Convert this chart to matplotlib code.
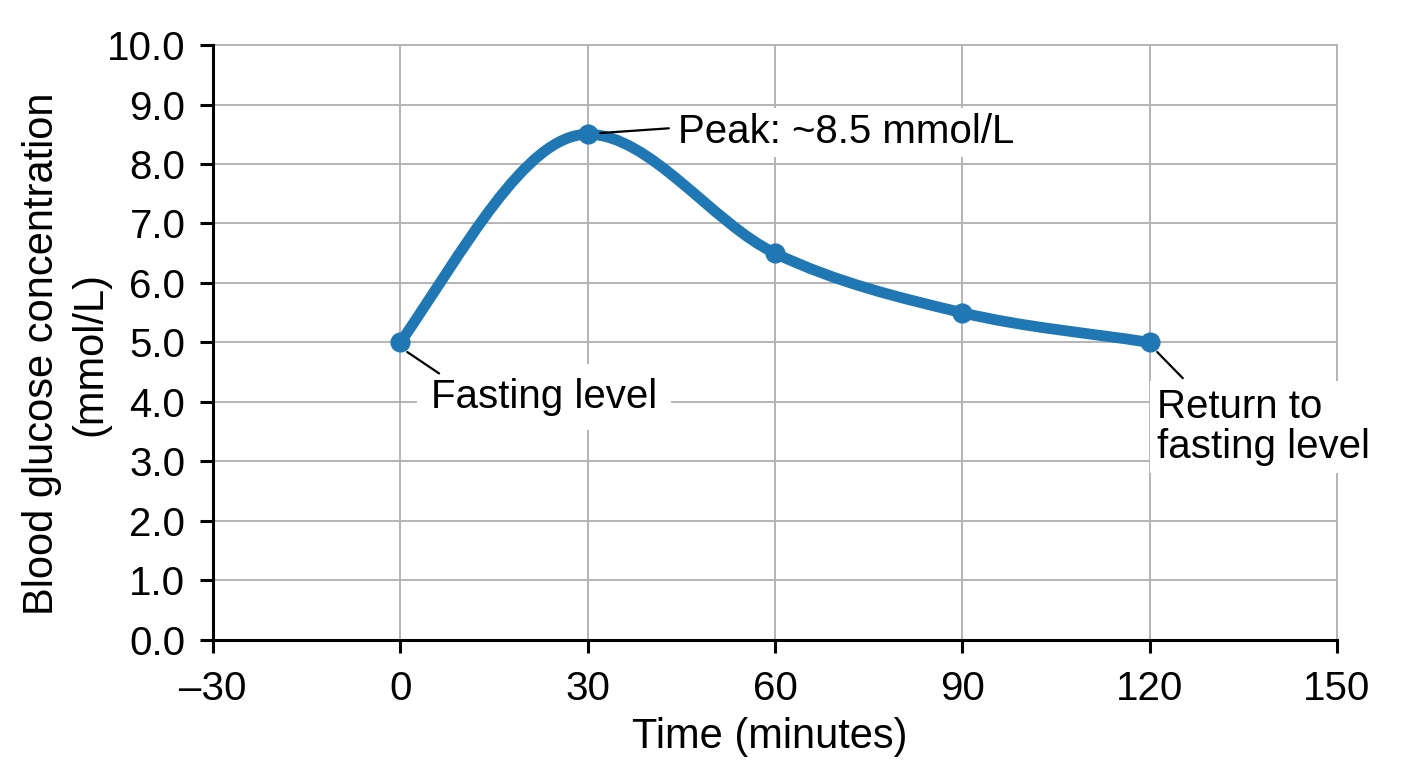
import numpy as np
import matplotlib
matplotlib.use("Agg")
import matplotlib.pyplot as plt
from matplotlib.path import Path
from matplotlib.patches import PathPatch

plt.rcParams['font.family'] = ['Liberation Sans', 'DejaVu Sans']

# data
time_min = [0, 30, 60, 90, 120]
glucose = [5.0, 8.5, 6.5, 5.5, 5.0]
x_ticks = [-30, 0, 30, 60, 90, 120, 150]
y_ticks = [0.0, 1.0, 2.0, 3.0, 4.0, 5.0, 6.0, 7.0, 8.0, 9.0, 10.0]

BLUE = "#1f77b4"


def smooth_path(xs, ys, end_boost=1.3):
    # bezier through the points, flat tangent at local extrema
    xs = np.asarray(xs, float)
    ys = np.asarray(ys, float)
    n = len(xs)
    m = np.zeros(n)
    for i in range(n):
        if i == 0:
            m[i] = end_boost * (ys[1] - ys[0]) / (xs[1] - xs[0])
        elif i == n - 1:
            m[i] = (ys[-1] - ys[-2]) / (xs[-1] - xs[-2])
        else:
            a = (ys[i] - ys[i-1]) / (xs[i] - xs[i-1])
            b = (ys[i+1] - ys[i]) / (xs[i+1] - xs[i])
            m[i] = 0.0 if a * b <= 0 else (ys[i+1] - ys[i-1]) / (xs[i+1] - xs[i-1])
    verts = [(xs[0], ys[0])]
    codes = [Path.MOVETO]
    for i in range(n - 1):
        dx = (xs[i+1] - xs[i]) / 3
        verts += [(xs[i] + dx, ys[i] + m[i] * dx),
                  (xs[i+1] - dx, ys[i+1] - m[i+1] * dx),
                  (xs[i+1], ys[i+1])]
        codes += [Path.CURVE4] * 3
    return Path(verts, codes)


fig = plt.figure(figsize=(14.08, 7.68), dpi=100)
ax = fig.add_axes([0.1513, 0.1667, 0.7983, 0.7747])

ax.set_xlim(-30, 150)
ax.set_ylim(0, 10)
ax.set_xticks(x_ticks)
ax.set_yticks(y_ticks)
ax.set_yticklabels([f"{v:.1f}" for v in y_ticks])
ax.set_xticklabels([str(v).replace("-", "\u2013") for v in x_ticks])

ax.grid(True, color="#b4b4b4", linewidth=1.4, clip_on=False)
ax.set_axisbelow(True)
for s in ["top", "right"]:
    ax.spines[s].set_visible(False)
for s in ["left", "bottom"]:
    ax.spines[s].set_linewidth(2.2)
    ax.spines[s].set_zorder(5)

ax.tick_params(direction="out", length=9.4, width=2.2, labelsize=29)
ax.tick_params(axis="y", pad=10.5)
ax.tick_params(axis="x", pad=12)

ax.add_patch(PathPatch(smooth_path(time_min, glucose), fill=False,
                       edgecolor=BLUE, linewidth=7.8, capstyle="round", zorder=3))
ax.plot(time_min, glucose, "o", color=BLUE, markersize=13.5, zorder=4)

fig.text(770 / 1408, 1 - 748 / 768, "Time (minutes)", fontsize=30,
         ha="center", va="baseline")
fig.text(66 / 1408, 1 - 354 / 768, "Blood glucose concentration\n(mmol/L)",
         fontsize=30, rotation=90, ha="center", va="center", linespacing=1.28,
         multialignment="center")

line = dict(arrowstyle="-", color="black", linewidth=1.6, shrinkA=0, shrinkB=0)


def label(text, pos, pad, **kw):
    ax.text(pos[0], pos[1], text, fontsize=29, ha="left", va="baseline",
            bbox=dict(facecolor="white", edgecolor="none", pad=pad),
            zorder=6, clip_on=False, **kw)


def leader(p0, p1):
    ax.annotate("", xy=p0, xytext=p1, arrowprops=line, zorder=7,
                annotation_clip=False)


label("Peak: ~8.5 mmol/L", (44.4, 8.35), 4)
leader((32.0, 8.52), (43.0, 8.6))

label("Fasting level", (4.9, 3.9), 10)
leader((1.1, 4.84), (6.2, 4.48))

label("Return to\nfasting level", (121.2, 3.06), 5, linespacing=1.08)
leader((121.2, 4.84), (125.3, 4.4))

fig.savefig("out.png", dpi=100)
